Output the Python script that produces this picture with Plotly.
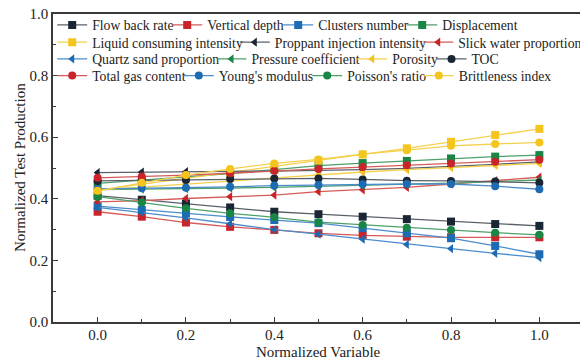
import plotly.graph_objects as go

x_vals = [0.0, 0.1, 0.2, 0.3, 0.4, 0.5, 0.6, 0.7, 0.8, 0.9, 1.0]

flow_back_rate = [0.410, 0.397, 0.385, 0.372, 0.358, 0.350, 0.342, 0.334, 0.326, 0.318, 0.312]
vertical_depth = [0.358, 0.342, 0.323, 0.309, 0.299, 0.288, 0.281, 0.277, 0.275, 0.275, 0.275]
clusters_number = [0.376, 0.364, 0.352, 0.341, 0.331, 0.321, 0.305, 0.288, 0.272, 0.247, 0.220]
displacement = [0.450, 0.460, 0.470, 0.482, 0.495, 0.508, 0.516, 0.523, 0.531, 0.537, 0.542]
liquid_consuming = [0.428, 0.448, 0.467, 0.486, 0.505, 0.524, 0.544, 0.564, 0.585, 0.607, 0.627]
proppant_injection = [0.485, 0.487, 0.488, 0.489, 0.490, 0.492, 0.495, 0.499, 0.505, 0.512, 0.520]
slick_water = [0.390, 0.394, 0.401, 0.407, 0.412, 0.423, 0.429, 0.437, 0.448, 0.459, 0.470]
quartz_sand = [0.372, 0.356, 0.338, 0.319, 0.300, 0.285, 0.269, 0.252, 0.238, 0.223, 0.209]
pressure_coef = [0.430, 0.431, 0.433, 0.435, 0.437, 0.440, 0.443, 0.447, 0.451, 0.456, 0.461]
porosity = [0.428, 0.438, 0.448, 0.458, 0.468, 0.478, 0.487, 0.495, 0.501, 0.509, 0.515]
toc = [0.458, 0.460, 0.461, 0.464, 0.466, 0.466, 0.463, 0.459, 0.458, 0.456, 0.452]
total_gas = [0.468, 0.472, 0.477, 0.483, 0.491, 0.497, 0.503, 0.509, 0.515, 0.520, 0.527]
youngs_modulus = [0.432, 0.434, 0.436, 0.439, 0.443, 0.445, 0.447, 0.448, 0.448, 0.441, 0.431]
poissons_ratio = [0.407, 0.388, 0.369, 0.353, 0.340, 0.324, 0.315, 0.306, 0.299, 0.290, 0.283]
brittleness = [0.426, 0.452, 0.477, 0.497, 0.515, 0.528, 0.545, 0.558, 0.572, 0.578, 0.583]

x_ticks = [0.0, 0.2, 0.4, 0.6, 0.8, 1.0]
y_ticks = [0.0, 0.2, 0.4, 0.6, 0.8, 1.0]

C = {
    "k": ("#1b2634", "#5a6068"),
    "r": ("#c8242a", "#d65a58"),
    "b": ("#1d6bb3", "#4b8ccc"),
    "g": ("#1a8645", "#4e9f6a"),
    "y": ("#f5c51f", "#f4d04e"),
}

# name, values, colour key, marker, legend row, legend symbol start (px)
series = [
    ("Flow back rate", flow_back_rate, "k", "square", 0, 61.7),
    ("Vertical depth", vertical_depth, "r", "square", 0, 176.7),
    ("Clusters number", clusters_number, "b", "square", 0, 287.7),
    ("Displacement", displacement, "g", "square", 0, 411.7),
    ("Liquid consuming intensity", liquid_consuming, "y", "square", 1, 61.7),
    ("Proppant injection intensity", proppant_injection, "k", "triangle-left", 1, 244.3),
    ("Slick water proportion", slick_water, "r", "triangle-left", 1, 427.7),
    ("Quartz sand proportion", quartz_sand, "b", "triangle-left", 2, 61.7),
    ("Pressure coefficient", pressure_coef, "g", "triangle-left", 2, 221.0),
    ("Porosity", porosity, "y", "triangle-left", 2, 361.7),
    ("TOC", toc, "k", "circle", 2, 441.0),
    ("Total gas content", total_gas, "r", "circle", 3, 61.7),
    ("Young's modulus", youngs_modulus, "b", "circle", 3, 188.3),
    ("Poisson's ratio", poissons_ratio, "g", "circle", 3, 316.7),
    ("Brittleness index", brittleness, "y", "circle", 3, 428.3),
]

font_family = "Liberation Serif"
row_px = [25, 42.3, 59, 75.7]
plot_left, plot_w, plot_top, plot_h = 53, 527, 14, 308

fig = go.Figure()
legend_layouts = {}
for i, (name, vals, c, sym, row, sx) in enumerate(series):
    mc, lc = C[c]
    key = "legend" if i == 0 else f"legend{i + 1}"
    fig.add_trace(go.Scatter(
        x=x_vals, y=vals, mode="lines+markers", name=name, legend=key,
        showlegend=True,
        line=dict(color=lc, width=1.3),
        marker=dict(symbol=sym, size=8, color=mc, line=dict(width=0)),
    ))
    legend_layouts[key] = dict(
        orientation="h", xanchor="left", yanchor="middle",
        x=(sx + 30.5 - 40 - plot_left) / plot_w,
        y=(plot_top + plot_h - row_px[row]) / plot_h,
        bgcolor="rgba(0,0,0,0)",
        font=dict(family=font_family, size=13.7, color="#222"),
        itemwidth=30,
    )

axis_common = dict(
    showline=True, linecolor="#3a3a3a", linewidth=1.5,
    ticks="inside", ticklen=5, tickwidth=1, tickcolor="#3a3a3a",
    showgrid=False, zeroline=False,
    tickfont=dict(family=font_family, size=15, color="#222"),
    tickformat=".1f",
)

title_font = dict(family=font_family, size=15, color="#222")

fig.update_layout(
    width=580, height=362,
    showlegend=True,
    margin=dict(l=plot_left, r=0, t=plot_top, b=40, autoexpand=False),
    plot_bgcolor="white", paper_bgcolor="white",
    font=dict(family=font_family, size=13.7, color="#222"),
    xaxis=dict(
        range=[-0.101, 1.092], tickvals=x_ticks, mirror=True,
        ticklabelstandoff=-2,
        minor=dict(ticks="inside", ticklen=3, dtick=0.1, tick0=0, tickcolor="#3a3a3a"),
        **axis_common,
    ),
    yaxis=dict(
        range=[0, 1], tickvals=y_ticks,
        minor=dict(ticks="inside", ticklen=3, dtick=0.1, tick0=0, tickcolor="#3a3a3a"),
        **axis_common,
    ),
    annotations=[
        dict(text="Normalized Variable", xref="paper", yref="paper",
             x=(318 - plot_left) / plot_w, y=(plot_top + plot_h - 352) / plot_h,
             xanchor="center", yanchor="middle", showarrow=False, font=title_font),
        dict(text="Normalized Test Production", xref="paper", yref="paper",
             x=(20 - plot_left) / plot_w, y=0.5, textangle=-90,
             xanchor="center", yanchor="middle", showarrow=False, font=title_font),
    ],
    **legend_layouts,
)

fig.write_html("out.html")
